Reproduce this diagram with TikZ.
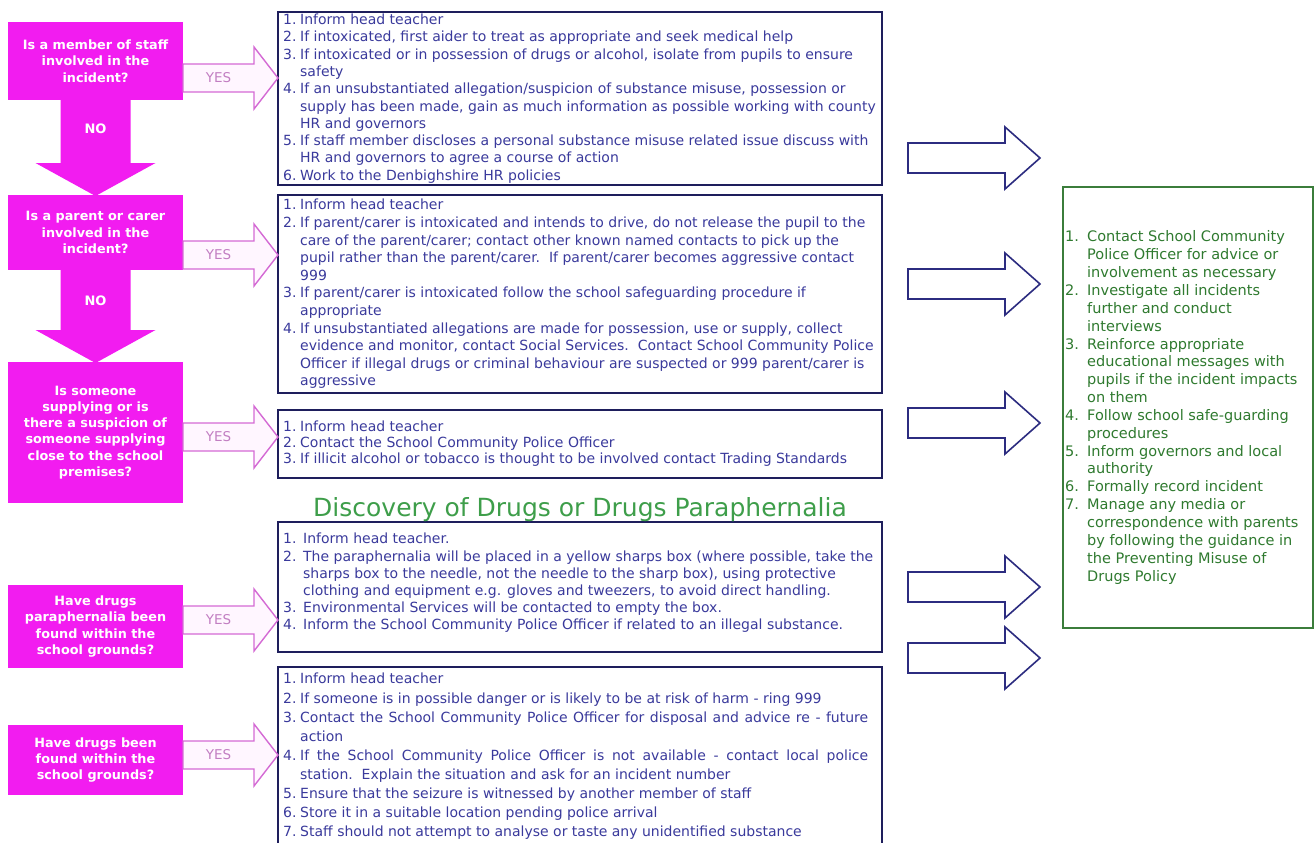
\documentclass[tikz,border=0pt]{standalone}
\usepackage{fontspec}
\setmainfont{DejaVu Sans}
\usetikzlibrary{calc}
\definecolor{mag}{HTML}{F21CF0}
\definecolor{yesline}{HTML}{D46AD4}
\definecolor{yesfill}{HTML}{FFF6FF}
\definecolor{yestext}{HTML}{C27EC2}
\definecolor{navy}{HTML}{1E1E5C}
\definecolor{tbtext}{HTML}{3A3A9C}
\definecolor{arrline}{HTML}{2C2C80}
\definecolor{gline}{HTML}{3B7D3B}
\definecolor{gtext}{HTML}{2F7A2F}
\definecolor{ttlgreen}{HTML}{3E9E4A}
\newcommand\nm[2][17pt]{\makebox[#1][l]{#2}}
\newcommand\ct[1][17pt]{\hspace*{#1}}
\newcommand\yesarrow[3]{%
  \path[yesar] let \p1=(#1.east), \p2=(#2.west), \p3=(0,#3) in
    (\x1,\y3+14pt) -- (\x2-24pt,\y3+14pt) -- (\x2-24pt,\y3+31pt) -- (\x2,\y3)
    -- (\x2-24pt,\y3-31pt) -- (\x2-24pt,\y3-14pt) -- (\x1,\y3-14pt) -- cycle
    node[yeslbl] at ({(\x1+\x2-24pt)/2},\y3) {YES};}
\newcommand\outarrow[3]{%
  \path[rar] let \p1=(#1.east), \p2=(#2.west), \p3=(0,#3) in
    (\x1+26pt,\y3+15pt) -- (\x2-58pt,\y3+15pt) -- (\x2-58pt,\y3+31pt) -- (\x2-23pt,\y3)
    -- (\x2-58pt,\y3-31pt) -- (\x2-58pt,\y3-15pt) -- (\x1+26pt,\y3-15pt) -- cycle;}
\newcommand\noarrow[2]{%
  \path[fill=mag] let \p1=(#1.south), \p2=(#2.north) in
    (\x1-35pt,\y1+1pt) -- (\x1+35pt,\y1+1pt) -- (\x1+35pt,\y2+32pt) -- (\x1+60pt,\y2+32pt)
    -- (\x1,\y2-1pt) -- (\x1-60pt,\y2+32pt) -- (\x1-35pt,\y2+32pt) -- cycle;}
\begin{document}
\begin{tikzpicture}[x=1pt,y=-1pt,
  qbox/.style={fill=mag,text=white,font=\bfseries\fontsize{12.8}{16.3}\selectfont,align=center,
    inner sep=0pt,outer sep=0pt,anchor=north west,minimum width=175pt},
  tbox/.style={draw=navy,line width=1.6pt,anchor=north west,inner sep=0pt,outer sep=0pt,minimum width=604pt},
  tbtxt/.style={anchor=west,align=left,inner sep=0pt,text=tbtext},
  yesar/.style={draw=yesline,fill=yesfill,line width=1.4pt},
  yeslbl/.style={text=yestext,font=\fontsize{13.5}{15}\selectfont},
  nolbl/.style={text=white,font=\bfseries\fontsize{13}{15}\selectfont},
  rar/.style={draw=arrline,fill=white,line width=1.6pt},
]
\useasboundingbox (0,0) rectangle (1315,843);
\fill[white] (0,0) rectangle (1315,843);
\clip (0,0) rectangle (1315,843);

% question boxes
\node[qbox,minimum height=78pt] (b1) at (8,22) {Is a member of staff\\involved in the\\incident?};
\node[qbox,minimum height=75pt] (b2) at (8,195) {Is a parent or carer\\involved in the\\incident?};
\node[qbox,minimum height=141pt] (b3) at (8,362) {Is someone\\supplying or is\\there a suspicion of\\someone supplying\\close to the school\\premises?};
\node[qbox,minimum height=83pt] (b4) at (8,585) {Have drugs\\paraphernalia been\\found within the\\school grounds?};
\node[qbox,minimum height=70pt] (b5) at (8,725) {Have drugs been\\found within the\\school grounds?};

\noarrow{b1}{b2}
\noarrow{b2}{b3}
\node[nolbl] (no1) at ($(b1.south)!0.3!(b2.north)$) {NO};
\node[nolbl] (no2) at ($(b2.south)!0.33!(b3.north)$) {NO};

% action boxes
\node[tbox,minimum height=173pt] (tb1) at (278,12) {};
\node[tbox,minimum height=198pt] (tb2) at (278,195) {};
\node[tbox,minimum height=68pt] (tb3) at (278,410) {};
\node[tbox,minimum height=130pt] (tb4) at (278,522) {};
\node[tbox,minimum height=179pt] (tb5) at (278,667) {};

\node[tbtxt,font=\fontsize{14}{17.3}\selectfont] (t1) at ($(tb1.west)+(5,0)$) {%
\nm{1.}Inform head teacher\\
\nm{2.}If intoxicated, first aider to treat as appropriate and seek medical help\\
\nm{3.}If intoxicated or in possession of drugs or alcohol, isolate from pupils to ensure\\
\ct safety\\
\nm{4.}If an unsubstantiated allegation/suspicion of substance misuse, possession or\\
\ct supply has been made, gain as much information as possible working with county\\
\ct HR and governors\\
\nm{5.}If staff member discloses a personal substance misuse related issue discuss with\\
\ct HR and governors to agree a course of action\\
\nm{6.}Work to the Denbighshire HR policies};

\node[tbtxt,font=\fontsize{14}{17.6}\selectfont] (t2) at ($(tb2.west)+(5,0)$) {%
\nm{1.}Inform head teacher\\
\nm{2.}If parent/carer is intoxicated and intends to drive, do not release the pupil to the\\
\ct care of the parent/carer; contact other known named contacts to pick up the\\
\ct pupil rather than the parent/carer.\ \ If parent/carer becomes aggressive contact\\
\ct 999\\
\nm{3.}If parent/carer is intoxicated follow the school safeguarding procedure if\\
\ct appropriate\\
\nm{4.}If unsubstantiated allegations are made for possession, use or supply, collect\\
\ct evidence and monitor, contact Social Services.\ \ Contact School Community Police\\
\ct Officer if illegal drugs or criminal behaviour are suspected or 999 parent/carer is\\
\ct aggressive};

\node[tbtxt,font=\fontsize{14}{16}\selectfont] (t3) at ($(tb3.west)+(5,0)$) {%
\nm{1.}Inform head teacher\\
\nm{2.}Contact the School Community Police Officer\\
\nm{3.}If illicit alcohol or tobacco is thought to be involved contact Trading Standards};

\node[text=ttlgreen,font=\fontsize{25}{29}\selectfont] (ttl) at (580,510) {Discovery of Drugs or Drugs Paraphernalia};

\node[tbtxt,font=\fontsize{14}{17.2}\selectfont] (t4) at ($(tb4.west)+(5,-4)$) {%
\nm[20pt]{1.}Inform head teacher.\\
\nm[20pt]{2.}The paraphernalia will be placed in a yellow sharps box (where possible, take the\\
\ct[20pt]sharps box to the needle, not the needle to the sharp box), using protective\\
\ct[20pt]clothing and equipment e.g. gloves and tweezers, to avoid direct handling.\\
\nm[20pt]{3.}Environmental Services will be contacted to empty the box.\\
\nm[20pt]{4.}Inform the School Community Police Officer if related to an illegal substance.};

\node[tbtxt,font=\fontsize{14}{19.1}\selectfont] (t5) at ($(tb5.west)+(5,0)$) {%
\nm{1.}Inform head teacher\\
\nm{2.}If someone is in possible danger or is likely to be at risk of harm - ring 999\\
\nm{3.}\makebox[568pt][s]{Contact the School Community Police Officer for disposal and advice re - future}\\
\ct action\\
\nm{4.}\makebox[568pt][s]{If the School Community Police Officer is not available - contact local police}\\
\ct station.\ \ Explain the situation and ask for an incident number\\
\nm{5.}Ensure that the seizure is witnessed by another member of staff\\
\nm{6.}Store it in a suitable location pending police arrival\\
\nm{7.}Staff should not attempt to analyse or taste any unidentified substance};

% outcome box
\node[draw=gline,line width=1.3pt,anchor=north west,minimum width=250pt,minimum height=441pt,
  inner sep=0pt,outer sep=0pt] (g) at (1063,187) {};
\node[anchor=west,align=left,inner sep=0pt,text=gtext,font=\fontsize{14.5}{17.85}\selectfont] (gt)
  at ($(g.west)+(2,0)$) {%
\nm[22pt]{1.}Contact School Community\\
\ct[22pt]Police Officer for advice or\\
\ct[22pt]involvement as necessary\\
\nm[22pt]{2.}Investigate all incidents\\
\ct[22pt]further and conduct\\
\ct[22pt]interviews\\
\nm[22pt]{3.}Reinforce appropriate\\
\ct[22pt]educational messages with\\
\ct[22pt]pupils if the incident impacts\\
\ct[22pt]on them\\
\nm[22pt]{4.}Follow school safe-guarding\\
\ct[22pt]procedures\\
\nm[22pt]{5.}Inform governors and local\\
\ct[22pt]authority\\
\nm[22pt]{6.}Formally record incident\\
\nm[22pt]{7.}Manage any media or\\
\ct[22pt]correspondence with parents\\
\ct[22pt]by following the guidance in\\
\ct[22pt]the Preventing Misuse of\\
\ct[22pt]Drugs Policy};

% YES arrows
\yesarrow{b1}{tb1}{78}
\yesarrow{b2}{tb2}{255}
\yesarrow{b3}{tb3}{437}
\yesarrow{b4}{tb4}{620}
\yesarrow{b5}{tb5}{755}

% arrows to outcome box
\outarrow{tb1}{g}{158}
\outarrow{tb2}{g}{284}
\outarrow{tb3}{g}{423}
\outarrow{tb4}{g}{587}
\outarrow{tb4}{g}{658}
\end{tikzpicture}
\end{document}
